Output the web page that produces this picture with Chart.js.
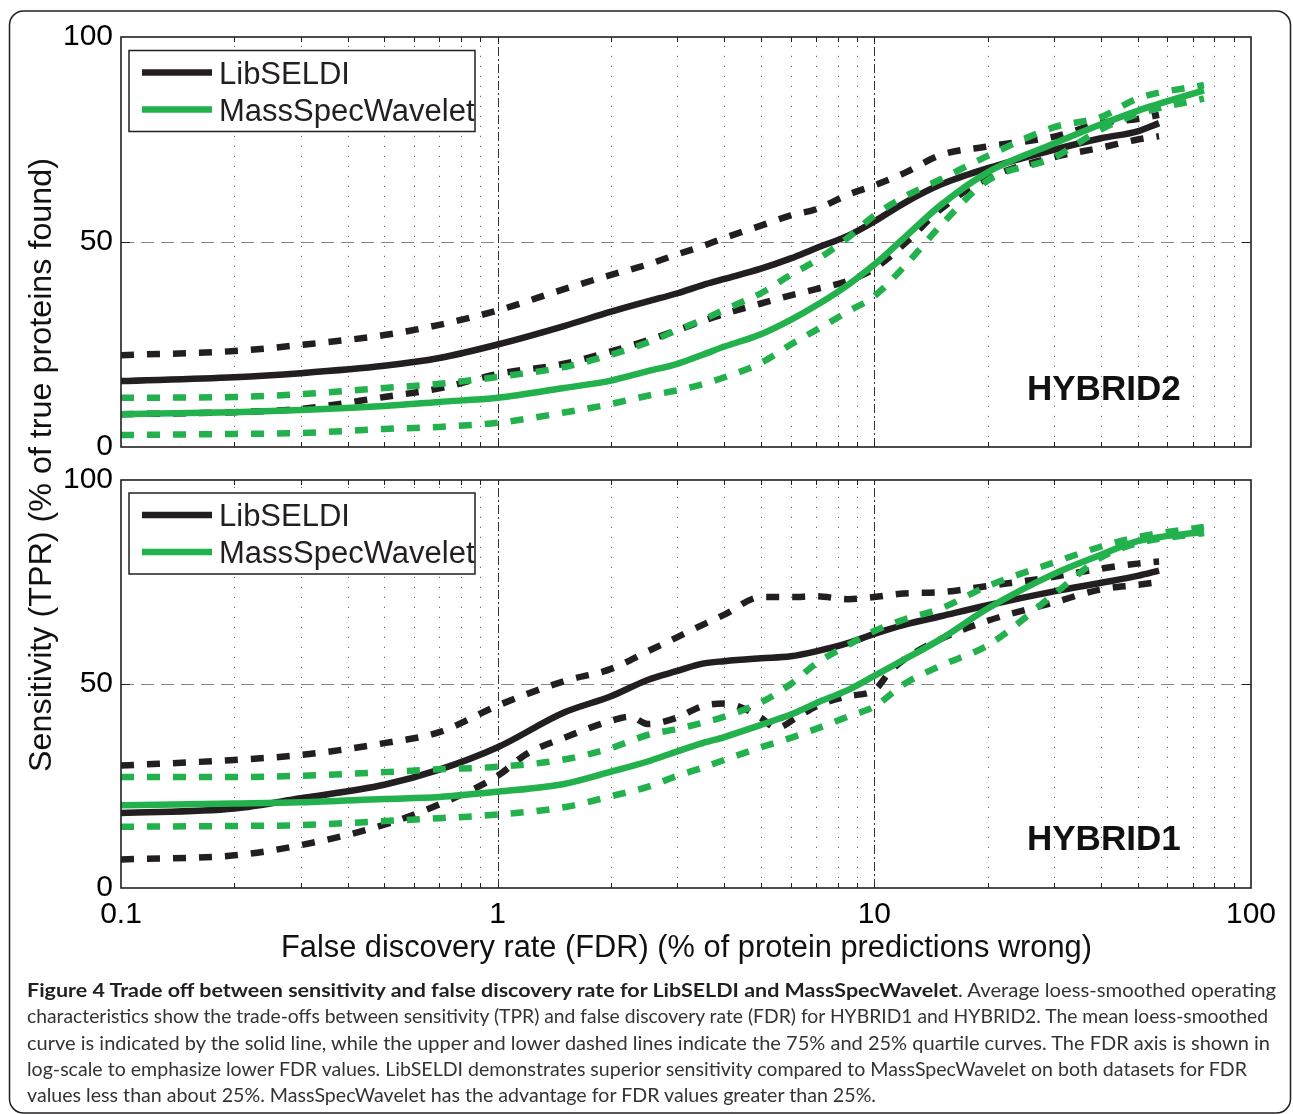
<!DOCTYPE html>
<html><head><meta charset="utf-8">
<script src="https://cdn.jsdelivr.net/npm/chart.js@4.4.1/dist/chart.umd.min.js"></script>
<style>
html,body{margin:0;padding:0;background:#fff;}
body{width:1293px;height:1114px;position:relative;overflow:hidden;}
canvas{position:absolute;left:0;}
#top{top:0;width:1293px;height:470px;}
#bot{top:460px;width:1293px;height:500px;}
#ov{position:absolute;left:0;top:0;}
</style></head><body>
<canvas id="top" width="1293" height="470"></canvas>
<canvas id="bot" width="1293" height="500"></canvas>
<svg id="ov" width="1293" height="1114" xmlns="http://www.w3.org/2000/svg"></svg>
<script>
// ---------- data ----------
const fdrTicks = [0.1, 1, 10, 100];
const fdrTickLabels = ['0.1', '1', '10', '100'];
const tprTicks = [0, 50, 100];
const fdrMinor = [0.2,0.3,0.4,0.5,0.6,0.7,0.8,0.9,2,3,4,5,6,7,8,9,20,30,40,50,60,70,80,90];
const fdrMajor = [1, 10];
const tprMajor = [50];
const seriesNames = ['LibSELDI', 'MassSpecWavelet'];
const panelNames = ['HYBRID2', 'HYBRID1'];
const xTitle = 'False discovery rate (FDR) (% of protein predictions wrong)';
const yTitle = 'Sensitivity (TPR) (% of true proteins found)';

const fdrLib = [0.1,0.2,0.3,0.5,0.7,1,1.5,2,2.5,3,3.5,4,5,6,7,8.5,10,12,15,20,30,40,50,57];
const fdrMsw = [0.1,0.2,0.3,0.5,0.7,1,1.5,2,2.5,3,3.5,4,5,6,7,8.5,10,12,15,20,30,40,50,75];

// HYBRID2 (top panel)
const h2LibMean  = [16.1,17,18,19.8,21.7,25,29.5,33,35.5,37.5,39.5,41,43.5,46,48.5,51.5,55,59.5,64,68,72.5,75.3,77,79];
const h2LibUpper = [22.4,23.4,24.9,27.3,29.8,33.3,38.5,42,44.5,47,49,51,54,56.5,58,61.5,63.8,66.8,71.2,73.3,75.7,79,80,81];
const h2LibLower = [8,8.5,9.3,12.2,14.3,17.8,20.3,23.3,26,28.5,30.7,32.5,35,37,38.5,40.5,43.5,49.5,58,65.5,70.7,73,75,75.8];
const h2MswMean  = [8,8.5,9,10,11,12,14.4,16.2,18.5,20.3,22.5,24.5,27.5,31,34.5,39.5,44.5,51,59,67,74,78.7,82,87];
const h2MswUpper = [12,12.2,12.9,14.4,15.4,17.1,19.5,22.5,25.5,28.5,31,33.5,37.5,42,45.5,51,56.5,61,65.3,71,78,80.5,85,88.3];
const h2MswLower = [2.9,3.2,3.4,4.4,4.9,5.9,8.4,10.5,12.5,13.8,15.3,17,20.5,25,28.5,33,36.8,44,54,65,70.6,77.5,81.2,85];

// HYBRID1 (bottom panel)
const h1LibMean  = [18.4,19.5,22,25.3,29,34.5,43,47,51,53.2,55,55.6,56.3,56.8,58,60,62.3,64.5,66.6,69.3,72.7,74.8,76.5,77.8];
const h1LibUpper = [30,31.4,32.6,35.5,38.2,44.7,50.7,53.7,58,61.5,64.5,67,71.3,71.3,71.5,70.8,71.3,72.2,72.5,74,76.3,78.3,79.5,80];
const fdrH1LibLower = [0.1,0.2,0.3,0.5,0.7,1,1.2,1.5,2,2.25,2.5,3,3.5,4,4.5,5,5.5,6.2,7,8.5,10,11,12,15,20,30,40,50,57];
const h1LibLower = [7,8,10.5,15.5,20.5,27.5,33,36.8,41,42,40.2,41.8,44.6,45.2,44,41.7,39.2,41.7,44.5,47,48.5,53,56,61,65.5,70,73.2,74.3,75];
const h1MswMean  = [20.3,20.7,21,21.8,22.3,23.6,25.5,28.5,31,33.5,35.5,37,40,42.5,45.3,48.5,52,56,61,68.5,77,81.7,85,87.3];
const h1MswUpper = [27.2,27.2,27.5,28.4,29.1,29.7,31.5,34.3,37.5,39,40.5,42,45.5,50,55,59.5,63,65.8,68.5,74,79.8,83.7,86,88.5];
const h1MswLower = [15,15.2,15.4,16.4,17.1,18,19.8,22.5,24.8,27.5,29.5,31.4,34.5,36.8,39,42,44.5,50,54.5,59.5,72,81,84.5,87];

const captionBold = 'Figure 4 Trade off between sensitivity and false discovery rate for LibSELDI and MassSpecWavelet';
const captionLines = [
  '. Average loess-smoothed operating',
  'characteristics show the trade-offs between sensitivity (TPR) and false discovery rate (FDR) for HYBRID1 and HYBRID2. The mean loess-smoothed',
  'curve is indicated by the solid line, while the upper and lower dashed lines indicate the 75% and 25% quartile curves. The FDR axis is shown in',
  'log-scale to emphasize lower FDR values. LibSELDI demonstrates superior sensitivity compared to MassSpecWavelet on both datasets for FDR',
  'values less than about 25%. MassSpecWavelet has the advantage for FDR values greater than 25%.'
];

// ---------- styling ----------
const LIB = '#231f20', MSW = '#22b14c';
const FONT = '"Liberation Sans", Arial, Helvetica, sans-serif';

function series(xs, ys, color, dashed) {
  return {
    label: '', data: xs.map((x, i) => ({x: x, y: ys[i]})),
    borderColor: color, backgroundColor: color, borderWidth: 6.5,
    borderDash: dashed ? [13, 13] : [], borderCapStyle: 'butt', borderJoinStyle: 'round',
    pointRadius: 0, pointHoverRadius: 0, cubicInterpolationMode: 'monotone', fill: false,
    order: color === MSW ? 0 : 1
  };
}

const axesPlugin = {
  id: 'axesPlugin',
  beforeDatasetsDraw(chart) {
    const {ctx, chartArea: a, scales: {x, y}} = chart;
    ctx.save();
    ctx.lineWidth = 1;
    ctx.strokeStyle = '#6a6a6a'; ctx.setLineDash([1.2, 8.8]);
    fdrMinor.forEach(v => { const p = Math.round(x.getPixelForValue(v)) + 0.5;
      ctx.beginPath(); ctx.moveTo(p, a.bottom); ctx.lineTo(p, a.top); ctx.stroke(); });
    ctx.strokeStyle = '#333'; ctx.setLineDash([9, 3, 2, 3]);
    fdrMajor.forEach(v => { const p = Math.round(x.getPixelForValue(v)) + 0.5;
      ctx.beginPath(); ctx.moveTo(p, a.bottom); ctx.lineTo(p, a.top); ctx.stroke(); });
    ctx.strokeStyle = '#858585'; ctx.setLineDash([13, 7]);
    tprMajor.forEach(v => { const p = Math.round(y.getPixelForValue(v)) + 0.5;
      ctx.beginPath(); ctx.moveTo(a.left, p); ctx.lineTo(a.right, p); ctx.stroke(); });
    ctx.restore();
  },
  afterDatasetsDraw(chart) {
    const {ctx, chartArea: a, scales: {x, y}} = chart;
    ctx.save();
    ctx.setLineDash([]); ctx.strokeStyle = '#231f20'; ctx.lineWidth = 1;
    fdrMinor.concat(fdrMajor).forEach(v => { const p = Math.round(x.getPixelForValue(v)) + 0.5;
      ctx.beginPath(); ctx.moveTo(p, a.bottom); ctx.lineTo(p, a.bottom - 5);
      ctx.moveTo(p, a.top); ctx.lineTo(p, a.top + 5); ctx.stroke(); });
    tprMajor.forEach(v => { const p = Math.round(y.getPixelForValue(v)) + 0.5;
      ctx.beginPath(); ctx.moveTo(a.left, p); ctx.lineTo(a.left + 9, p);
      ctx.moveTo(a.right, p); ctx.lineTo(a.right - 9, p); ctx.stroke(); });
    ctx.lineWidth = 1.6;
    ctx.strokeRect(a.left, a.top, a.right - a.left, a.bottom - a.top);
    ctx.restore();
  }
};

function yScale() {
  return {
    min: 0, max: 100,
    afterBuildTicks: s => { s.ticks = tprTicks.map(v => ({value: v})); },
    afterFit: s => { s.width = 121; s.paddingTop = 0; s.paddingBottom = 0; },
    grid: {display: false, drawTicks: false}, border: {display: false},
    ticks: {font: {family: FONT, size: 30}, color: '#000', padding: 8, callback: v => String(v)}
  };
}
function xScale(show) {
  return {
    type: 'logarithmic', min: 0.1, max: 100, display: show,
    afterBuildTicks: s => { s.ticks = fdrTicks.map(v => ({value: v})); },
    afterFit: s => { s.height = show ? 72 : 0; },
    grid: {display: false, drawTicks: false}, border: {display: false},
    ticks: {font: {family: FONT, size: 30}, color: '#000', padding: 9, autoSkip: false, maxRotation: 0,
      callback: (v, i) => fdrTickLabels[i]}
  };
}
function makeChart(id, datasets, padding, showX) {
  return new Chart(document.getElementById(id), {
    type: 'line',
    data: {datasets: datasets},
    options: {
      responsive: false, animation: false, events: [], devicePixelRatio: 1,
      layout: {padding: padding},
      plugins: {legend: {display: false}, tooltip: {enabled: false}},
      scales: {x: xScale(showX), y: yScale()}
    },
    plugins: [axesPlugin]
  });
}

const topChart = makeChart('top', [
  series(fdrMsw, h2MswMean, MSW, false), series(fdrMsw, h2MswUpper, MSW, true), series(fdrMsw, h2MswLower, MSW, true),
  series(fdrLib, h2LibMean, LIB, false), series(fdrLib, h2LibUpper, LIB, true), series(fdrLib, h2LibLower, LIB, true)
], {left: 0, right: 42, top: 37, bottom: 23}, false);

const botChart = makeChart('bot', [
  series(fdrMsw, h1MswMean, MSW, false), series(fdrMsw, h1MswUpper, MSW, true), series(fdrMsw, h1MswLower, MSW, true),
  series(fdrLib, h1LibMean, LIB, false), series(fdrLib, h1LibUpper, LIB, true), series(fdrH1LibLower, h1LibLower, LIB, true)
], {left: 0, right: 42, top: 20, bottom: 0}, true);

// ---------- overlay: frame, legends, labels, titles, caption ----------
const svg = document.getElementById('ov');
const NS = 'http://www.w3.org/2000/svg';
function el(tag, attrs, text) {
  const e = document.createElementNS(NS, tag);
  for (const k in attrs) e.setAttribute(k, attrs[k]);
  if (text != null) e.textContent = text;
  svg.appendChild(e); return e;
}
el('rect', {x: 9.5, y: 11, width: 1281, height: 1102, rx: 14, fill: 'none', stroke: '#231f20', 'stroke-width': 1.5});

function legend(chart, offsetTop, canvasTop) {
  const a = chart.chartArea;
  const bx = a.left + 8, by = canvasTop + a.top + offsetTop;
  el('rect', {x: bx, y: by, width: 346, height: 81, fill: '#fff', stroke: '#231f20', 'stroke-width': 1.5});
  [LIB, MSW].forEach((c, i) => {
    const ly = by + 22 + i * 37;
    el('line', {x1: bx + 13, x2: bx + 83, y1: ly, y2: ly, stroke: c, 'stroke-width': 6.5});
    el('text', {x: bx + 90, y: ly + 11, 'font-family': FONT, 'font-size': 31, fill: '#231f20'}, seriesNames[i]);
  });
}
legend(topChart, 13.5, 0);
legend(botChart, 13, 460);

el('text', {x: 1027, y: 400, 'font-family': FONT, 'font-size': 35, 'font-weight': 'bold', fill: '#111'}, panelNames[0]);
el('text', {x: 1027, y: 850, 'font-family': FONT, 'font-size': 35, 'font-weight': 'bold', fill: '#111'}, panelNames[1]);

el('text', {x: 686.5, y: 957, 'text-anchor': 'middle', 'font-family': FONT, 'font-size': 31, fill: '#111',
  textLength: 811, lengthAdjust: 'spacingAndGlyphs'}, xTitle);
el('text', {transform: 'translate(51,465) rotate(-90)', x: 0, y: 0, 'text-anchor': 'middle', 'font-family': FONT,
  'font-size': 31, fill: '#111', textLength: 614, lengthAdjust: 'spacingAndGlyphs'}, yTitle);

const CAPF = 'Lato, "Open Sans", sans-serif';
el('text', {x: 27, y: 997, 'font-family': CAPF, 'font-size': 19, 'font-weight': 'bold', fill: '#231f20',
  textLength: 931, lengthAdjust: 'spacingAndGlyphs'}, captionBold);
const capX = [958, 27, 27, 27, 27];
const capY = [997, 1023, 1049.5, 1076, 1102];
const capW = [318, 1241, 1243, 1220, 849];
captionLines.forEach((t, i) => {
  el('text', {x: capX[i], y: capY[i], 'font-family': CAPF, 'font-size': 19, fill: '#333',
    textLength: capW[i], lengthAdjust: 'spacingAndGlyphs'}, t);
});
</script></body></html>
